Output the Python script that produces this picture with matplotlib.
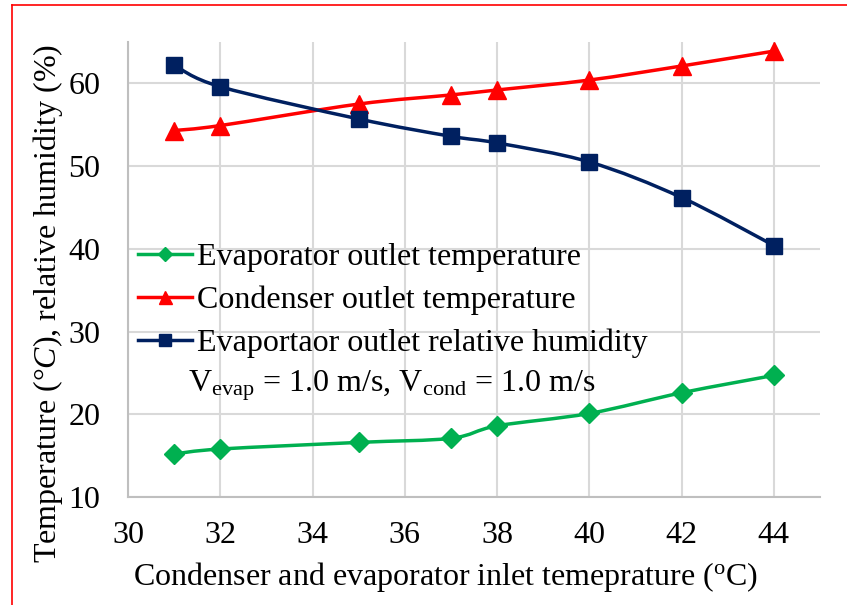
import matplotlib
matplotlib.use('Agg')
import matplotlib.pyplot as plt
import numpy as np
from matplotlib.path import Path
from matplotlib.patches import PathPatch
from matplotlib.lines import Line2D

plt.rcParams['font.family'] = ['Liberation Serif', 'DejaVu Serif']
plt.rcParams['mathtext.fontset'] = 'custom'
plt.rcParams['mathtext.rm'] = 'Liberation Serif'
plt.rcParams['mathtext.it'] = 'Liberation Serif:italic'

inlet_temp = [31, 32, 35, 37, 38, 40, 42, 44]
evap_outlet_temp = [15.2, 15.8, 16.6, 17.1, 18.6, 20.1, 22.6, 24.7]
cond_outlet_temp = [54.3, 54.9, 57.5, 58.6, 59.2, 60.4, 62.1, 63.9]
evap_outlet_rh = [62.2, 59.6, 55.7, 53.6, 52.8, 50.5, 46.2, 40.4]

SERIES = [
    ('Evaporator outlet temperature', evap_outlet_temp, '#00B050', 'D', 10),
    ('Condenser outlet temperature', cond_outlet_temp, '#FF0000', '^', 13),
    ('Evaportaor outlet relative humidity', evap_outlet_rh, '#002060', 's', 12),
]


def smooth_path(x, y):
    """Bezier path through the points, Excel-style smoothed line."""
    pts = np.column_stack([x, y]).astype(float)
    verts = [pts[0]]
    codes = [Path.MOVETO]
    n = len(pts)
    for i in range(n - 1):
        p0 = pts[i - 1] if i > 0 else pts[i]
        p1, p2 = pts[i], pts[i + 1]
        p3 = pts[i + 2] if i + 2 < n else pts[i + 1]
        c1 = p1 + (p2 - p0) / 6.0
        c2 = p2 - (p3 - p1) / 6.0
        verts += [c1, c2, p2]
        codes += [Path.CURVE4] * 3
    return Path(verts, codes)


fig = plt.figure(figsize=(8.47, 6.05), dpi=100)
ax = fig.add_axes([128 / 847, 1 - 497 / 605, (820 - 128) / 847, (497 - 42) / 605])

handles = []
for label, vals, color, marker, ms in SERIES:
    ax.add_patch(PathPatch(smooth_path(inlet_temp, vals), facecolor='none',
                           edgecolor=color, lw=2.5, zorder=3, capstyle='round'))
    ax.plot(inlet_temp, vals, linestyle='none', marker=marker, ms=ms,
            color=color, zorder=4)
    handles.append(Line2D([], [], color=color, lw=2.5, marker=marker, ms=ms * 0.72))

ax.set_xlim(30, 45)
ax.set_ylim(10, 65)
ax.set_xticks(np.arange(30, 45, 2))
ax.set_yticks(np.arange(10, 61, 10))
ax.tick_params(length=0, labelsize=23)
ax.tick_params(axis='y', pad=20)
ax.tick_params(axis='x', pad=17)
ax.grid(True, color='#D9D9D9', lw=1.5)
ax.set_axisbelow(True)
for side in ('top', 'right'):
    ax.spines[side].set_visible(False)
for side in ('left', 'bottom'):
    ax.spines[side].set_color('#BFBFBF')
    ax.spines[side].set_linewidth(1.5)

ax.legend(handles, [s[0] for s in SERIES], loc='upper left',
          bbox_to_anchor=(0.0145, 0.559), frameon=False, fontsize=23,
          handlelength=1.7, handletextpad=0.15, labelspacing=0.42,
          borderaxespad=0, borderpad=0)
ax.text(0.087, 0.245, r'V$_{\rm evap}$ = 1.0 m/s, V$_{\rm cond}$ = 1.0 m/s',
        transform=ax.transAxes, fontsize=23, va='center')

fig.text(446 / 847, 1 - 577 / 605,
         r'Condenser and evaporator inlet temeprature ($^{\rm o}$C)',
         fontsize=23, ha='center', va='center')
fig.text(48 / 847, 1 - 304 / 605,
         r'Temperature ($\degree C$), relative humidity (%)',
         fontsize=23, ha='center', va='center', rotation=90)

# red frame
fig.add_artist(Line2D([12 / 847, 12 / 847], [0, 1 - 5 / 605], color='#FF0000', lw=1.2))
fig.add_artist(Line2D([12 / 847, 1], [1 - 5 / 605, 1 - 5 / 605], color='#FF0000', lw=1.2))

fig.savefig('out.png', dpi=100)
